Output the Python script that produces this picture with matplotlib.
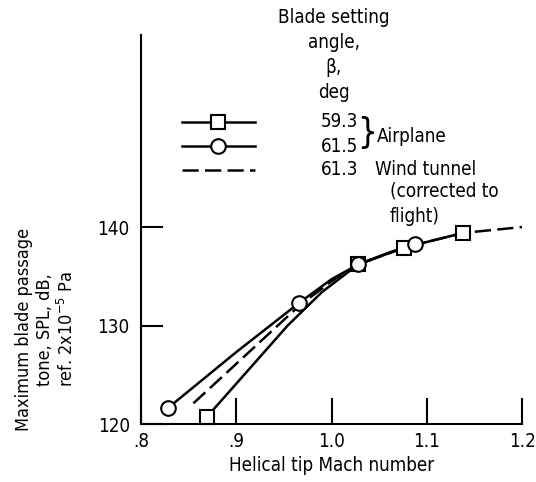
import matplotlib
matplotlib.use("Agg")
import matplotlib.pyplot as plt

plt.rcParams['font.family'] = ['DejaVu Sans']
plt.rcParams['font.stretch'] = 'condensed'
plt.rcParams['font.size'] = 13.5

# airplane, beta = 59.3 deg (squares)
sq_mach = [0.869, 1.028, 1.076, 1.138]
sq_spl = [120.7, 136.2, 137.9, 139.4]
sq_curve_mach = [0.869, 0.954, 0.99, 1.028, 1.076, 1.138]
sq_curve_spl = [120.7, 130.0, 133.4, 136.2, 137.9, 139.4]

# airplane, beta = 61.5 deg (circles)
ci_mach = [0.828, 0.966, 1.028, 1.088]
ci_spl = [121.6, 132.3, 136.2, 138.3]
ci_curve_mach = [0.828, 0.9, 0.966, 1.0, 1.028, 1.06, 1.088]
ci_curve_spl = [121.6, 127.3, 132.3, 134.7, 136.2, 137.4, 138.3]

# wind tunnel, beta = 61.3 deg (dashed)
wt_mach = [0.855, 0.91, 0.966, 1.0, 1.028, 1.076, 1.138, 1.2]
wt_spl = [122.1, 127.0, 132.0, 134.5, 136.2, 137.9, 139.4, 140.0]

fig = plt.figure(figsize=(5.36, 4.82), dpi=100)
ax = fig.add_axes([0.263, 0.1203, 0.711, 0.8071])

lw = 1.8
dash = (6.5, 2.5)
mk = dict(ms=10.5, mfc='white', mec='black', mew=1.5)
ax.plot(wt_mach, wt_spl, color='black', lw=lw, dashes=dash)
ax.plot(sq_curve_mach, sq_curve_spl, color='black', lw=lw)
ax.plot(ci_curve_mach, ci_curve_spl, color='black', lw=lw)
ax.plot(sq_mach, sq_spl, 's', clip_on=False, **mk)
ax.plot(ci_mach, ci_spl, 'o', clip_on=False, **mk)

ax.set_xlim(0.8, 1.2)
ax.set_ylim(120, 159.5)
ax.set_xticks([0.8, 0.9, 1.0, 1.1, 1.2])
ax.set_xticklabels(['.8', '.9', '1.0', '1.1', '1.2'])
ax.set_yticks([120, 130, 140])
ax.tick_params(axis='x', direction='in', length=18.5, width=1.5, pad=6)
ax.tick_params(axis='y', direction='in', length=16, width=1.5, pad=8)
for s in ['top', 'right']:
    ax.spines[s].set_visible(False)
for s in ['left', 'bottom']:
    ax.spines[s].set_linewidth(1.5)

ax.set_xlabel('Helical tip Mach number', labelpad=3)
fig.text(0.086, 0.317, 'Maximum blade passage\ntone, SPL, dB,\nref. 2x10$^{-5}$ Pa',
         rotation=90, ha='center', va='center', linespacing=1.2, fontsize=13)

# legend drawn by hand
fig.text(0.623, 0.983, 'Blade setting\nangle,\nβ,\ndeg', ha='center', va='top',
         linespacing=1.4)
leg_y = [0.7475, 0.6965, 0.6475]
x0, x1 = 0.339, 0.476
xm = 0.406
fig.add_artist(plt.Line2D([x0, x1], [leg_y[0]] * 2, color='black', lw=lw))
fig.add_artist(plt.Line2D([xm], [leg_y[0]], marker='s', **mk))
fig.add_artist(plt.Line2D([x0, x1], [leg_y[1]] * 2, color='black', lw=lw))
fig.add_artist(plt.Line2D([xm], [leg_y[1]], marker='o', **mk))
fig.add_artist(plt.Line2D([x0, x1], [leg_y[2]] * 2, color='black', lw=lw,
                          dashes=dash))
for y, t in zip(leg_y, ['59.3', '61.5', '61.3']):
    fig.text(0.668, y, t, ha='right', va='center')
fig.text(0.685, 0.724, '}', ha='center', va='center', fontsize=25,
         fontweight='ultralight')
fig.text(0.704, 0.716, 'Airplane', ha='left', va='center')
fig.text(0.700, leg_y[2], 'Wind tunnel', ha='left', va='center')
fig.text(0.727, 0.604, '(corrected to', ha='left', va='center')
fig.text(0.727, 0.551, 'flight)', ha='left', va='center')

fig.savefig('out.png', dpi=100)
